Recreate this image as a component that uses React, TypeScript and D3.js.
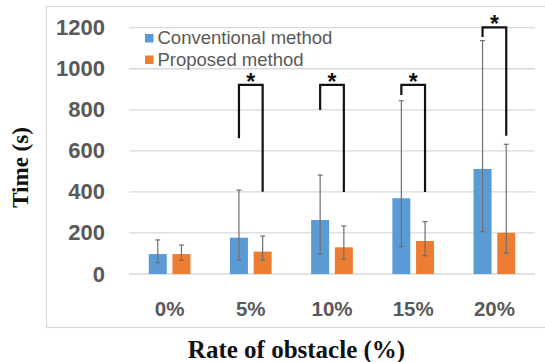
import React from "react";
import * as d3 from "d3";

// values (seconds)
const categories = ["0%", "5%", "10%", "15%", "20%"];
const seriesNames = ["Conventional method", "Proposed method"];
const conventional = [97, 177, 263, 369, 512];
const proposed = [97, 109, 130, 161, 201];
const convLow = [55, 68, 97, 133, 206];
const convHigh = [166, 409, 482, 844, 1137];
const propLow = [67, 68, 72, 89, 101];
const propHigh = [141, 185, 234, 255, 632];
const yTicks = [0, 200, 400, 600, 800, 1000, 1200];

// significance brackets
const bracketCats = ["5%", "10%", "15%", "20%"];
const bracketTop = [921, 921, 921, 1202];
const bracketLeftEnd = [661, 799, 872, 1155];
const bracketRightEnd = [401, 400, 400, 674];

const colors = ["#5B9BD5", "#ED7D31"];

export default function App() {
  const width = 545;
  const height = 362;
  const y = d3.scaleLinear().domain([0, 1200]).range([274, 27.7]);
  const x0 = d3.scaleBand().domain(categories).range([129, 535]);
  const x1 = d3
    .scaleBand()
    .domain(seriesNames)
    .range([0, 41.7])
    .paddingInner(0.24);

  const offset = (x0.bandwidth() - 41.7) / 2;
  const barX = (cat: string, s: string) => (x0(cat) as number) + offset + (x1(s) as number);
  const barMid = (cat: string, s: string) => barX(cat, s) + x1.bandwidth() / 2;

  const series = [
    { name: seriesNames[0], vals: conventional, lo: convLow, hi: convHigh },
    { name: seriesNames[1], vals: proposed, lo: propLow, hi: propHigh },
  ];

  const numFont = "'Liberation Sans', Arial, sans-serif";
  const serif = "'Liberation Serif', 'Times New Roman', serif";

  return (
    <svg
      width={width}
      height={height}
      style={{ position: "absolute", left: 0, top: 0, background: "#fff" }}
    >
      <rect x={46.5} y={6.5} width={510} height={321} fill="none" stroke="#d9d9d9" strokeWidth={1.2} />

      {yTicks.map((t) => (
        <g key={"t" + t}>
          <line x1={129} x2={535} y1={y(t)} y2={y(t)} stroke="#d9d9d9" strokeWidth={1.3} />
          <text
            x={105}
            y={y(t) + 7.5}
            textAnchor="end"
            fontFamily={numFont}
            fontWeight="bold"
            fontSize={22}
            fill="#595959"
          >
            {t}
          </text>
        </g>
      ))}

      {series.map((s, si) =>
        categories.map((c, i) => (
          <rect
            key={s.name + c}
            x={barX(c, s.name)}
            y={y(s.vals[i])}
            width={x1.bandwidth()}
            height={y(0) - y(s.vals[i])}
            fill={colors[si]}
          />
        ))
      )}

      {series.map((s) =>
        categories.map((c, i) => {
          const cx = barMid(c, s.name);
          return (
            <g key={"e" + s.name + c} stroke="#6f6f6f" strokeWidth={1.2}>
              <line x1={cx} x2={cx} y1={y(s.hi[i])} y2={y(s.lo[i])} />
              <line x1={cx - 2.5} x2={cx + 2.5} y1={y(s.hi[i])} y2={y(s.hi[i])} />
              <line x1={cx - 2.5} x2={cx + 2.5} y1={y(s.lo[i])} y2={y(s.lo[i])} />
            </g>
          );
        })
      )}

      {bracketCats.map((c, i) => {
        const xl = barMid(c, seriesNames[0]);
        const xr = barMid(c, seriesNames[1]);
        const path = d3.path();
        path.moveTo(xl, y(bracketLeftEnd[i]));
        path.lineTo(xl, y(bracketTop[i]));
        path.lineTo(xr, y(bracketTop[i]));
        path.lineTo(xr, y(bracketRightEnd[i]));
        return (
          <g key={"b" + c}>
            <path d={path.toString()} fill="none" stroke="#111" strokeWidth={2.2} />
            <text
              x={(xl + xr) / 2}
              y={y(bracketTop[i]) + 5}
              textAnchor="middle"
              fontFamily={numFont}
              fontWeight="bold"
              fontSize={23}
              fill="#111"
            >
              *
            </text>
          </g>
        );
      })}

      {categories.map((c) => (
        <text
          key={"c" + c}
          x={(x0(c) as number) + x0.bandwidth() / 2}
          y={315.5}
          textAnchor="middle"
          fontFamily={numFont}
          fontWeight="bold"
          fontSize={20.5}
          fill="#595959"
        >
          {c}
        </text>
      ))}

      {seriesNames.map((n, i) => (
        <g key={"l" + n} transform={`translate(145, ${34 + i * 21.5})`}>
          <rect x={0} y={0} width={8.5} height={8.5} fill={colors[i]} />
          <text
            x={12.5}
            y={10.3}
            fontFamily={numFont}
            fontSize={18.5}
            fill="#595959"
          >
            {n}
          </text>
        </g>
      ))}

      <text
        transform="translate(28.3, 167.5) rotate(-90)"
        textAnchor="middle"
        fontFamily={serif}
        fontWeight="bold"
        fontSize={23}
        fill="#111"
      >
        Time (s)
      </text>
      <text
        x={296.5}
        y={358}
        textAnchor="middle"
        fontFamily={serif}
        fontWeight="bold"
        fontSize={25}
        fill="#111"
      >
        Rate of obstacle (%)
      </text>
    </svg>
  );
}
